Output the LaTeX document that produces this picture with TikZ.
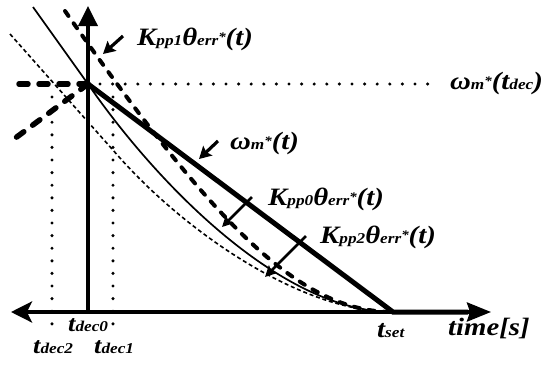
\documentclass[tikz,border=0pt]{standalone}
\usepackage{fontspec}
\usepackage{graphicx}
\setmainfont{Liberation Serif}
\usetikzlibrary{arrows.meta}
\newcommand\sm[1]{{\fontsize{15}{15}\selectfont #1}}
\newcommand\stt{\raisebox{4pt}{\fontsize{13}{13}\selectfont *}}
\newcommand\lb[1]{\scalebox{1.15}[1]{\fontsize{25}{25}\selectfont\bfseries\itshape #1}}
\newcommand\lbs[1]{\scalebox{1.15}[1]{\fontsize{23}{23}\selectfont\bfseries\itshape #1}}
\begin{document}
\begin{tikzpicture}[x=1pt,y=-1pt,
  sAxis/.style={line width=3.6pt},
  sMain/.style={line width=5pt},
  sThin/.style={line width=1.7pt},
  sFine/.style={line width=1.6pt, dash pattern=on 4pt off 2.8pt},
  sKdash/.style={line width=4pt, dash pattern=on 6pt off 9pt, line cap=round},
  sLdash/.style={line width=5.5pt, dash pattern=on 9pt off 11pt, line cap=round},
  sDots/.style={line width=3.4pt, dash pattern=on 0pt off 12.6pt, line cap=round},
  sKarrow/.style={line width=2.6pt, -{Stealth[length=11pt,width=11pt,inset=2pt]}},
  sLarrow/.style={line width=3.2pt, -{Stealth[length=12pt,width=13pt,inset=2pt]}},
  sLab/.style={inner sep=0pt, anchor=base west}]
\useasboundingbox (0,0) rectangle (550,365);
% key points
\coordinate (P) at (88,84);
\coordinate (S) at (393,312);
\coordinate (O) at (88,312);
\coordinate (Ytip) at (88,6);
\coordinate (Ltip) at (11,312);
\coordinate (Rtip) at (491,312);
\coordinate (Rmain) at (468,312);
% curves
\coordinate (F0) at (10,34);
\coordinate (F1) at (120,158);
\draw[sFine] (F0) -- (F1) .. controls (185,231) and (300,312) .. (S);
\coordinate (T0) at (33,7);
\draw[sThin] (T0) -- (P) .. controls (155,181) and (280,312) .. (S);
\coordinate (D0) at (65,11);
\draw[sKdash] (D0) .. controls (215,226) and (300,312) .. (S);
% left thick dashed
\coordinate (LH) at (9,84);
\coordinate (LD) at (10,142);
\draw[sLdash] (P) -- (LH);
\draw[sLdash] (P) -- (LD);
% dotted guides
\coordinate (H0) at (100,84);
\coordinate (H1) at (430,84);
\draw[sDots] (H0) -- (H1);
\coordinate (V2a) at (52,97);
\coordinate (V2b) at (52,326);
\coordinate (V1a) at (113,97);
\coordinate (V1b) at (113,326);
\draw[sDots] (V2a) -- (V2b);
\draw[sDots] (V1a) -- (V1b);
% axes
\draw[sAxis, -{Triangle[length=20pt,width=19pt]}] (O) -- (Ytip);
\draw[sAxis, {Stealth[length=21pt,width=21pt,inset=5pt]}-{Stealth[length=24pt,width=19pt,inset=3pt]}] (Ltip) -- (Rtip);
% reference speed
\draw[sMain] (P) -- (S) -- (Rmain);
% K arrows
\coordinate (K0a) at (252,197);
\coordinate (K0b) at (222,227);
\coordinate (K2a) at (306,236);
\coordinate (K2b) at (265,277);
\draw[sKarrow] (K0a) -- (K0b);
\draw[sKarrow] (K2a) -- (K2b);
% label arrows
\coordinate (Wa) at (218,141);
\coordinate (Wb) at (199,159);
\coordinate (K1a) at (123,36);
\coordinate (K1b) at (103,54);
\draw[sLarrow] (Wa) -- (Wb);
\draw[sLarrow] (K1a) -- (K1b);
% labels
\node[sLab] (lk1) at (137,45) {\lb{K\sm{pp1}θ\sm{err}\stt(t)}};
\node[sLab] (lw) at (230,149) {\lb{ω\sm{m}\stt(t)}};
\node[sLab] (lwd) at (450,89) {\lb{ω\sm{m}\stt(t\sm{dec})}};
\node[sLab] (lk0) at (268,205) {\lb{K\sm{pp0}θ\sm{err}\stt(t)}};
\node[sLab] (lk2) at (320,243) {\lb{K\sm{pp2}θ\sm{err}\stt(t)}};
\node[sLab] (lts) at (377,337) {\lb{t\sm{set}}};
\node[sLab] (ltime) at (448,335) {\lb{time[s]}};
\node[sLab] (ld0) at (68,331) {\lbs{t\sm{dec0}}};
\node[sLab] (ld2) at (33,353) {\lbs{t\sm{dec2}}};
\node[sLab] (ld1) at (94,353) {\lbs{t\sm{dec1}}};
\end{tikzpicture}
\end{document}
